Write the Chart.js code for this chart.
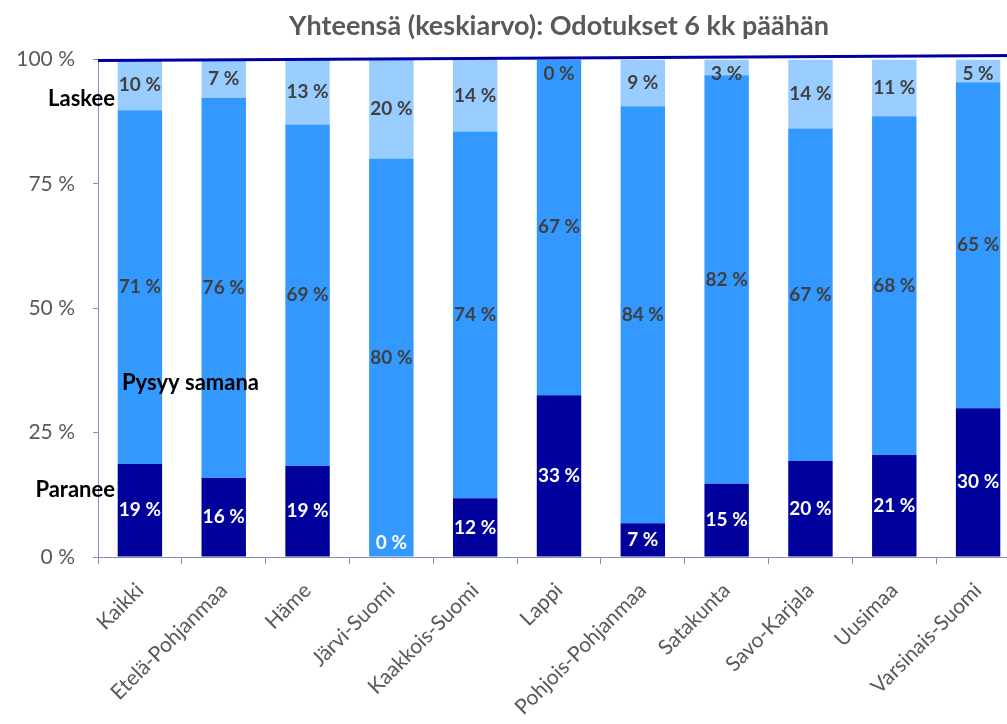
<!DOCTYPE html>
<html>
<head>
<meta charset="utf-8">
<script src="https://cdn.jsdelivr.net/npm/chart.js@4"></script>
<style>
  html, body { margin: 0; padding: 0; background: #fff; overflow: hidden; }
  #wrap { width: 1022px; height: 724px; }
</style>
</head>
<body>
<div id="wrap"><canvas id="chart" width="1022" height="724"></canvas></div>
<script>
/* Yhteensä (keskiarvo): Odotukset 6 kk päähän */

const categories = ["Kaikki", "Etelä-Pohjanmaa", "Häme", "Järvi-Suomi", "Kaakkois-Suomi",
  "Lappi", "Pohjois-Pohjanmaa", "Satakunta", "Savo-Karjala", "Uusimaa", "Varsinais-Suomi"];

// segment heights (percent)
const paranee = [18.7, 15.9, 18.3, 0, 11.8, 32.5, 6.8, 14.7, 19.3, 20.5, 29.9];
const pysyy   = [71.1, 76.4, 68.6, 80.1, 73.7, 67.5, 83.8, 82.1, 66.8, 68.1, 65.5];
const laskee  = [10.2, 7.7, 13.1, 19.9, 14.5, 0, 9.4, 3.2, 13.9, 11.4, 4.6];

// printed labels
const paraneeLbl = [19, 16, 19, 0, 12, 33, 7, 15, 20, 21, 30];
const pysyyLbl   = [71, 76, 69, 80, 74, 67, 84, 82, 67, 68, 65];
const laskeeLbl  = [10, 7, 13, 20, 14, 0, 9, 3, 14, 11, 5];

const yTicks = [0, 25, 50, 75, 100];

const FONT = "Lato, 'Open Sans', sans-serif";
const AXIS = "#8a8ac4";

// ── Labels inside the segments ───────────────────────────
const segLabels = {
  id: "segLabels",
  afterDatasetsDraw(chart) {
    const { ctx, chartArea } = chart;
    ctx.save();
    ctx.font = "bold 19px " + FONT;
    ctx.textAlign = "center";
    ctx.textBaseline = "middle";
    chart.data.datasets.forEach((ds, i) => {
      chart.getDatasetMeta(i).data.forEach((bar, j) => {
        let y = (bar.y + bar.base) / 2;
        y = Math.max(chartArea.top + 14, Math.min(chartArea.bottom - 14, y));
        ctx.fillStyle = ds.labelColor;
        ctx.fillText(ds.labels[j] + " %", bar.x, y);
      });
    });
    ctx.restore();
  }
};

// ── Series names + top line ──────────────────────────────
const extras = {
  id: "extras",
  afterDraw(chart) {
    const { ctx, chartArea } = chart;
    const ys = chart.scales.y;
    ctx.save();
    // dark line along 100 %
    const y100 = ys.getPixelForValue(100);
    ctx.strokeStyle = "#0000a0";
    ctx.lineWidth = 3;
    ctx.beginPath();
    ctx.moveTo(chartArea.left, y100 + 1);
    ctx.lineTo(chartArea.right, y100 - 4);
    ctx.stroke();

    ctx.fillStyle = "#000";
    ctx.font = "bold 22px " + FONT;
    ctx.textBaseline = "middle";
    ctx.textAlign = "right";
    ctx.fillText("Laskee", chartArea.left + 17, ys.getPixelForValue(92));
    ctx.fillText("Paranee", chartArea.left + 17, ys.getPixelForValue(13.5));
    ctx.textAlign = "left";
    ctx.fillText("Pysyy samana", chartArea.left + 24, ys.getPixelForValue(35));
    ctx.restore();
  }
};

new Chart(document.getElementById("chart").getContext("2d"), {
  type: "bar",
  data: {
    labels: categories,
    datasets: [
      { label: "Paranee", data: paranee, labels: paraneeLbl, labelColor: "#ffffff",
        backgroundColor: "#00009c" },
      { label: "Pysyy samana", data: pysyy, labels: pysyyLbl, labelColor: "#404040",
        backgroundColor: "#3399ff" },
      { label: "Laskee", data: laskee, labels: laskeeLbl, labelColor: "#404040",
        backgroundColor: "#99ccff" },
    ]
  },
  options: {
    responsive: false,
    animation: false,
    layout: { padding: { left: 0, right: 2, top: 0, bottom: 0 } },
    datasets: { bar: { categoryPercentage: 1, barPercentage: 0.53, borderWidth: 0 } },
    plugins: {
      legend: { display: false },
      tooltip: { enabled: false },
      title: {
        display: true,
        fullSize: false,
        text: "Yhteensä (keskiarvo): Odotukset 6 kk päähän",
        color: "#595959",
        font: { family: FONT, size: 27, weight: "bold" },
        padding: { top: 10, bottom: 17 }
      }
    },
    scales: {
      x: {
        stacked: true,
        grid: { drawOnChartArea: false, drawTicks: true, tickLength: 7, color: AXIS, offset: true },
        border: { color: AXIS, width: 1 },
        ticks: {
          color: "#595959",
          font: { family: FONT, size: 21 },
          minRotation: 45, maxRotation: 45,
          autoSkip: false, padding: 14
        },
        afterFit(s) { s.height = 167; }
      },
      y: {
        stacked: true,
        min: 0, max: 100,
        afterBuildTicks(s) { s.ticks = yTicks.map(v => ({ value: v })); },
        grid: { drawOnChartArea: false, drawTicks: true, tickLength: 5, color: AXIS },
        border: { color: AXIS, width: 1 },
        ticks: {
          color: "#595959",
          font: { family: FONT, size: 21 },
          padding: 18,
          callback: v => v + " %"
        },
        afterFit(s) { s.width = 98; }
      }
    }
  },
  plugins: [segLabels, extras]
});
</script>
</body>
</html>
